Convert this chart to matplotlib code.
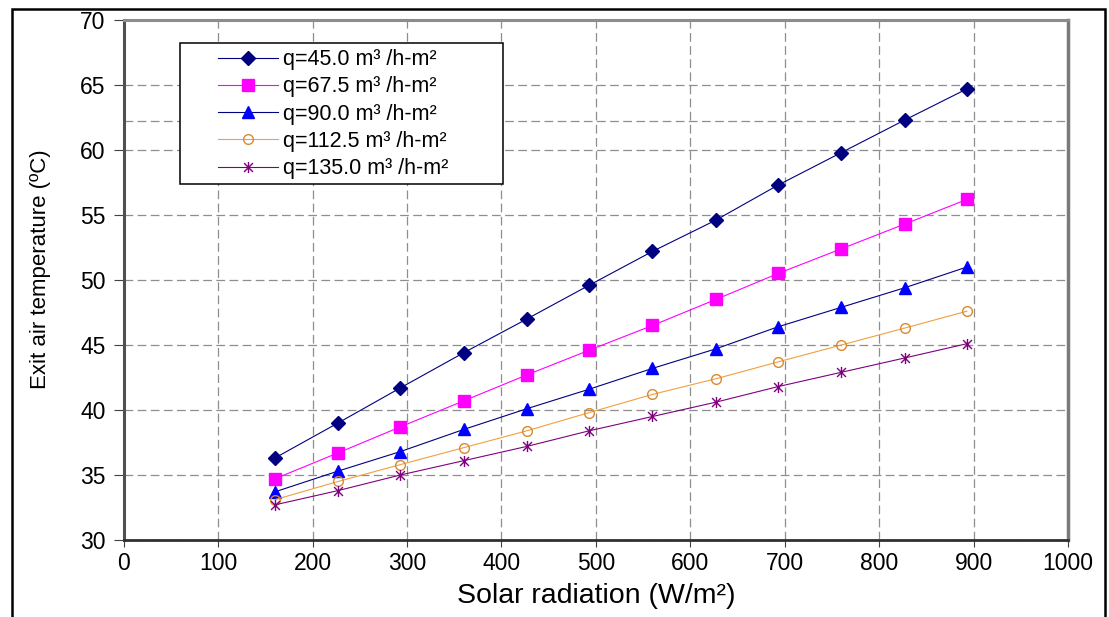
import matplotlib
matplotlib.use("Agg")
import matplotlib.pyplot as plt
from matplotlib.patches import Rectangle
from matplotlib.path import Path

plt.rcParams["font.family"] = ["Liberation Sans", "DejaVu Sans"]

# solar radiation (W/m2)
radiation = [160, 227, 293, 360, 427, 493, 560, 627, 693, 760, 827, 893]

# exit air temperature (C) for each air flow rate
temp_q45 = [36.3, 39.0, 41.7, 44.4, 47.0, 49.6, 52.2, 54.6, 57.3, 59.8, 62.3, 64.7]
temp_q67 = [34.7, 36.7, 38.7, 40.7, 42.7, 44.6, 46.5, 48.5, 50.5, 52.4, 54.3, 56.2]
temp_q90 = [33.7, 35.3, 36.8, 38.5, 40.1, 41.6, 43.2, 44.7, 46.4, 47.9, 49.4, 51.0]
temp_q112 = [33.1, 34.5, 35.8, 37.1, 38.4, 39.8, 41.2, 42.4, 43.7, 45.0, 46.3, 47.6]
temp_q135 = [32.7, 33.8, 35.0, 36.1, 37.2, 38.4, 39.5, 40.6, 41.8, 42.9, 44.0, 45.1]

labels = [
    "q=45.0 m\u00b3 /h-m\u00b2",
    "q=67.5 m\u00b3 /h-m\u00b2",
    "q=90.0 m\u00b3 /h-m\u00b2",
    "q=112.5 m\u00b3 /h-m\u00b2",
    "q=135.0 m\u00b3 /h-m\u00b2",
]
x_ticks = [0, 100, 200, 300, 400, 500, 600, 700, 800, 900, 1000]
y_ticks = [30, 35, 40, 45, 50, 55, 60, 65, 70]
ref_level = 62.2

# asterisk: vertical bar plus an x
asterisk = Path(
    [(0, -1), (0, 1), (-0.8, -0.8), (0.8, 0.8), (-0.8, 0.8), (0.8, -0.8)],
    [Path.MOVETO, Path.LINETO, Path.MOVETO, Path.LINETO, Path.MOVETO, Path.LINETO],
)

styles = [
    dict(color="#000080", marker="D", ms=7, mfc="#000080", mec="#000080"),
    dict(color="#ff00ff", marker="s", ms=8.5, mfc="#ff00ff", mec="#ff00ff"),
    dict(color="#000080", marker="^", ms=9, mfc="#0000ff", mec="#0000ff"),
    dict(color="#f0a040", marker="o", ms=7, mfc="none", mec="#d88a30", mew=1.0),
    dict(color="#800080", marker=asterisk, ms=8, mfc="none", mec="#800080", mew=1.0),
]

fig = plt.figure(figsize=(11.09, 6.17), dpi=100)
ax = fig.add_axes([0.1115, 0.1248, 0.8515, 0.8428])

series = [temp_q45, temp_q67, temp_q90, temp_q112, temp_q135]
for temps, label, st in zip(series, labels, styles):
    ax.plot(radiation, temps, lw=0.8, label=label, zorder=3, **st)

ax.set_xlim(0, 1000)
ax.set_ylim(30, 70)
ax.set_xticks(x_ticks)
ax.set_yticks(y_ticks)

grid_ls = (0, (7, 3.5))
ax.set_axisbelow(True)
ax.grid(True, color="#8e8e8e", lw=0.9, linestyle=grid_ls)
ax.axhline(ref_level, color="#8e8e8e", lw=0.9, linestyle=grid_ls, zorder=1)

ax.spines["left"].set(color="#505050", lw=2.2)
ax.spines["bottom"].set(color="#303030", lw=2.0)
ax.spines["top"].set(color="#8c8c8c", lw=2.2)
ax.spines["right"].set(color="#7a7a7a", lw=2.5)

ax.tick_params(axis="y", direction="out", length=7, width=0.8, color="#404040",
               pad=6, labelsize=16.5)
ax.tick_params(axis="x", direction="out", length=5, width=0.8, color="#404040",
               pad=4, labelsize=16.5)

ax.set_xlabel("Solar radiation (W/m\u00b2)", fontsize=20.5)
ax.xaxis.set_label_coords(0.5, -0.083)
ax.set_ylabel("Exit air temperature (\u00baC)", fontsize=16)
ax.yaxis.set_label_coords(-0.077, 0.521)

# legend box drawn separately so it can be wider than its entries
ax.add_patch(Rectangle((0.0593, 0.6846), 0.3422, 0.2712, transform=ax.transAxes,
                       facecolor="white", edgecolor="black", lw=1.1, zorder=4))
ax.legend(loc="upper left", bbox_to_anchor=(0.0996, 0.944), frameon=False,
          borderpad=0, borderaxespad=0, fontsize=15.5, handlelength=2.8,
          handletextpad=0.24, labelspacing=0.29, numpoints=1)

# outer frame around the whole chart
fig.add_artist(Rectangle((12 / 1109, -0.1), (1105 - 12) / 1109, 1.1 - 9 / 617,
                         transform=fig.transFigure, fill=False,
                         edgecolor="black", lw=1.8, clip_on=False))

fig.savefig("out.png", dpi=100)
